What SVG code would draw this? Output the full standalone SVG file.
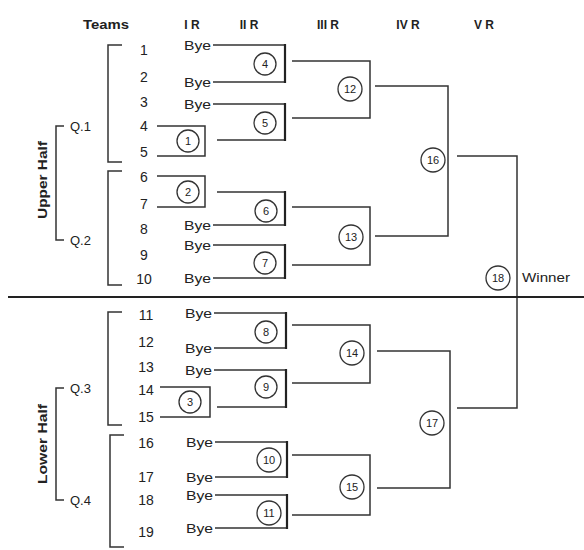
<svg xmlns="http://www.w3.org/2000/svg" width="584" height="550" viewBox="0 0 584 550">
<style>
.hd{font-family:"Liberation Sans",Arial,sans-serif;font-size:12px;font-weight:bold;fill:#222;text-anchor:middle}
.tm{font-family:"Liberation Sans",Arial,sans-serif;font-size:14px;fill:#222;text-anchor:middle}
.bye{font-family:"Liberation Sans",Arial,sans-serif;font-size:13px;fill:#222;text-anchor:end}
.q{font-family:"Liberation Sans",Arial,sans-serif;font-size:13px;fill:#222}
.half{font-family:"Liberation Sans",Arial,sans-serif;font-size:12px;font-weight:bold;fill:#222;text-anchor:middle}
.cn{font-family:"Liberation Sans",Arial,sans-serif;font-size:11px;fill:#222;text-anchor:middle}
.c{fill:#fff;stroke:#333;stroke-width:1.3}
.ln{fill:none;stroke:#333;stroke-width:1.5}
.lt{fill:none;stroke:#222;stroke-width:2.2}
</style>
<g id="headers">
<text class="hd" x="106" y="29" textLength="46" lengthAdjust="spacingAndGlyphs">Teams</text>
<text class="hd" x="192" y="29">I R</text>
<text class="hd" x="249" y="29">II R</text>
<text class="hd" x="328" y="29">III R</text>
<text class="hd" x="408" y="29">IV R</text>
<text class="hd" x="484" y="29">V R</text>
</g>
<g id="teams">
<text class="tm" x="144" y="55">1</text>
<text class="tm" x="144" y="82">2</text>
<text class="tm" x="144" y="107">3</text>
<text class="tm" x="144" y="131">4</text>
<text class="tm" x="144" y="157">5</text>
<text class="tm" x="144" y="182">6</text>
<text class="tm" x="144" y="209">7</text>
<text class="tm" x="144" y="234">8</text>
<text class="tm" x="144" y="260">9</text>
<text class="tm" x="144" y="284">10</text>
<text class="tm" x="146" y="320">11</text>
<text class="tm" x="146" y="347">12</text>
<text class="tm" x="146" y="372">13</text>
<text class="tm" x="146" y="395">14</text>
<text class="tm" x="146" y="422">15</text>
<text class="tm" x="146" y="448">16</text>
<text class="tm" x="146" y="482">17</text>
<text class="tm" x="146" y="505">18</text>
<text class="tm" x="146" y="537">19</text>
</g>
<g id="byes">
<text class="bye" x="211" y="50" textLength="27" lengthAdjust="spacingAndGlyphs">Bye</text>
<text class="bye" x="211" y="87" textLength="27" lengthAdjust="spacingAndGlyphs">Bye</text>
<text class="bye" x="211" y="109" textLength="27" lengthAdjust="spacingAndGlyphs">Bye</text>
<text class="bye" x="211" y="230" textLength="27" lengthAdjust="spacingAndGlyphs">Bye</text>
<text class="bye" x="211" y="250" textLength="27" lengthAdjust="spacingAndGlyphs">Bye</text>
<text class="bye" x="211" y="283" textLength="27" lengthAdjust="spacingAndGlyphs">Bye</text>
<text class="bye" x="212" y="318" textLength="27" lengthAdjust="spacingAndGlyphs">Bye</text>
<text class="bye" x="212" y="353" textLength="27" lengthAdjust="spacingAndGlyphs">Bye</text>
<text class="bye" x="212" y="375" textLength="27" lengthAdjust="spacingAndGlyphs">Bye</text>
<text class="bye" x="213" y="447" textLength="27" lengthAdjust="spacingAndGlyphs">Bye</text>
<text class="bye" x="213" y="482" textLength="27" lengthAdjust="spacingAndGlyphs">Bye</text>
<text class="bye" x="213" y="500" textLength="27" lengthAdjust="spacingAndGlyphs">Bye</text>
<text class="bye" x="213" y="533" textLength="27" lengthAdjust="spacingAndGlyphs">Bye</text>
</g>
<g id="groups">
<path class="ln" d="M122 45H108V162H122M122 171H108V285H122M122 312H108V425H122M124 435H110V547H124"/>
<path class="ln" d="M64 126H56V240H64M64 388H56V500H64"/>
<text class="q" x="70" y="131">Q.1</text>
<text class="q" x="70" y="245">Q.2</text>
<text class="q" x="70" y="393">Q.3</text>
<text class="q" x="70" y="505">Q.4</text>
<text class="half" transform="translate(47,180) rotate(-90)" textLength="78" lengthAdjust="spacingAndGlyphs">Upper Half</text>
<text class="half" transform="translate(47,444) rotate(-90)" textLength="80" lengthAdjust="spacingAndGlyphs">Lower Half</text>
</g>
<g id="connectors">
<path class="ln" d="M157 126H205V156H157M157 176H205V207H157M160 387H210V417H160"/>
<path class="ln" d="M213 45H285M213 82H285M213 104H285M217 140H285M217 192H285M213 225H285M213 245H285M213 278H285"/>
<path class="ln" d="M214 313H286M214 348H286M214 370H286M217 407H286M215 442H287M215 477H287M215 495H287M215 528H287"/>
<path class="lt" d="M285 44V83M285 103V141M285 191V226M285 244V279M286 312V349M286 369V408M287 441V478M287 494V529"/>
<path class="ln" d="M292 61H370V118H292M292 207H370V265H292M292 325H370V383H292M292 455H370V515H292"/>
<path class="ln" d="M375 86H448V236H375M377 351H450V488H377"/>
<path class="ln" d="M457 156H517V408H457"/>
<path d="M8 297H584" fill="none" stroke="#222" stroke-width="2"/>
</g>
<g id="m1"><circle class="c" cx="188" cy="141" r="11"/><text class="cn" x="188" y="145">1</text></g>
<g id="m2"><circle class="c" cx="188" cy="192" r="11"/><text class="cn" x="188" y="196">2</text></g>
<g id="m3"><circle class="c" cx="190" cy="402" r="11"/><text class="cn" x="190" y="406">3</text></g>
<g id="m4"><circle class="c" cx="265" cy="64" r="11"/><text class="cn" x="265" y="68">4</text></g>
<g id="m5"><circle class="c" cx="265" cy="123" r="11"/><text class="cn" x="265" y="127">5</text></g>
<g id="m6"><circle class="c" cx="266" cy="211" r="11"/><text class="cn" x="266" y="215">6</text></g>
<g id="m7"><circle class="c" cx="265" cy="263" r="11"/><text class="cn" x="265" y="267">7</text></g>
<g id="m8"><circle class="c" cx="266" cy="332" r="11"/><text class="cn" x="266" y="336">8</text></g>
<g id="m9"><circle class="c" cx="266" cy="387" r="11"/><text class="cn" x="266" y="391">9</text></g>
<g id="m10"><circle class="c" cx="269" cy="460" r="12"/><text class="cn" x="269" y="464">10</text></g>
<g id="m11"><circle class="c" cx="269" cy="513" r="12"/><text class="cn" x="269" y="517">11</text></g>
<g id="m12"><circle class="c" cx="350" cy="89" r="12"/><text class="cn" x="350" y="93">12</text></g>
<g id="m13"><circle class="c" cx="351" cy="237" r="12"/><text class="cn" x="351" y="241">13</text></g>
<g id="m14"><circle class="c" cx="352" cy="353" r="12"/><text class="cn" x="352" y="357">14</text></g>
<g id="m15"><circle class="c" cx="352" cy="487" r="12"/><text class="cn" x="352" y="491">15</text></g>
<g id="m16"><circle class="c" cx="433" cy="160" r="12"/><text class="cn" x="433" y="164">16</text></g>
<g id="m17"><circle class="c" cx="432" cy="423" r="12"/><text class="cn" x="432" y="427">17</text></g>
<g id="m18"><circle class="c" cx="498" cy="278" r="12"/><text class="cn" x="498" y="282">18</text>
<text class="q" x="522" y="282" textLength="48" lengthAdjust="spacingAndGlyphs">Winner</text></g>
</svg>
